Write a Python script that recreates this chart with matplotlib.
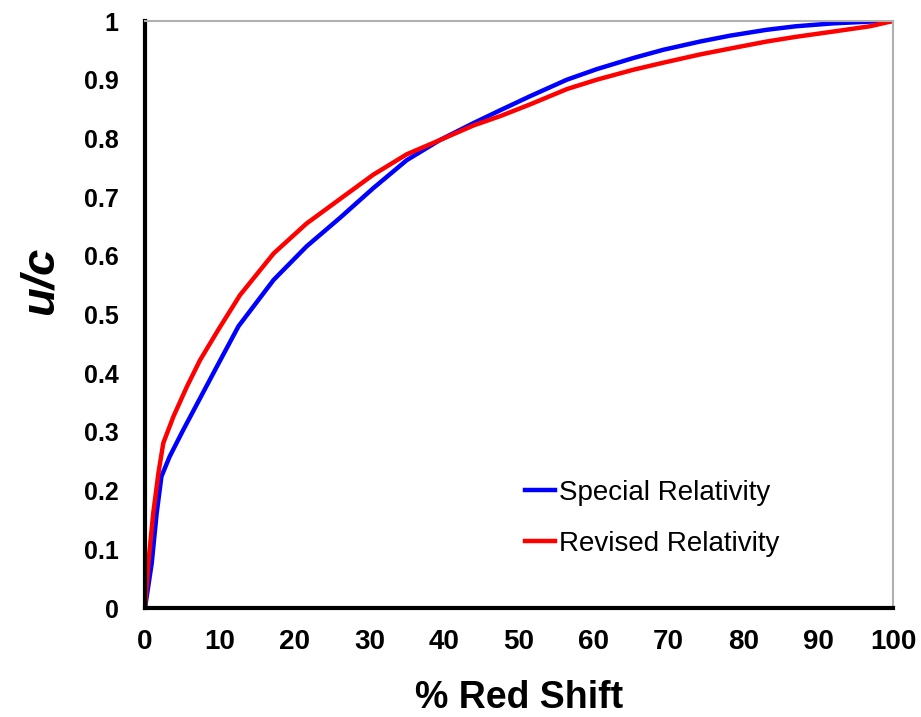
import matplotlib
matplotlib.use("Agg")
import matplotlib.pyplot as plt

# values
special_x = [0, 0.9, 1.56, 2.2, 3.3, 5.1, 7.35, 9.6, 12.5, 17.2, 21.6, 26.1, 30.5,
             35, 39.4, 43.9, 47.5, 51.5, 56.4, 60.4, 65.3, 69.3, 74.2, 78.2, 83.1,
             87, 92, 96.9, 100]
special_y = [0, 0.076, 0.161, 0.224, 0.258, 0.303, 0.357, 0.411, 0.48, 0.559, 0.616,
             0.665, 0.715, 0.763, 0.797, 0.826, 0.848, 0.872, 0.900, 0.918, 0.937,
             0.951, 0.965, 0.975, 0.985, 0.991, 0.996, 0.999, 1.0]

revised_x = [0, 0.45, 1.1, 1.8, 2.45, 3.8, 5.6, 7.35, 9.8, 12.7, 17.2, 21.6, 26.1,
             30.5, 35, 39.4, 43.9, 47.5, 51.5, 56.4, 60.4, 65.3, 69.3, 74.2, 78.2,
             83.1, 87, 92, 96.9, 100]
revised_y = [0, 0.076, 0.161, 0.23, 0.281, 0.326, 0.377, 0.422, 0.474, 0.533, 0.604,
             0.655, 0.697, 0.738, 0.773, 0.797, 0.822, 0.838, 0.858, 0.884, 0.900,
             0.917, 0.929, 0.943, 0.953, 0.965, 0.973, 0.982, 0.991, 1.0]

x_ticks = list(range(0, 101, 10))
y_ticks = [0, 0.1, 0.2, 0.3, 0.4, 0.5, 0.6, 0.7, 0.8, 0.9, 1]
y_tick_labels = ['0', '0.1', '0.2', '0.3', '0.4', '0.5', '0.6', '0.7', '0.8', '0.9', '1']

plt.rcParams['font.family'] = ['Liberation Sans', 'DejaVu Sans']

fig = plt.figure(figsize=(9.21, 7.17), dpi=100)
ax = fig.add_axes([0.1574, 0.152, 0.8122, 0.8187])

ax.plot(special_x, special_y, color='#0000ff', lw=3.2, label='Special Relativity',
        solid_joinstyle='round')
ax.plot(revised_x, revised_y, color='#ff0000', lw=3.2, label='Revised Relativity',
        solid_joinstyle='round')

ax.set_xlim(0, 100)
ax.set_ylim(0, 1)
ax.set_xticks(x_ticks)
ax.set_yticks(y_ticks)
ax.set_yticklabels(y_tick_labels)
ax.tick_params(length=0)
ax.tick_params(axis='x', pad=15, labelsize=20)
ax.tick_params(axis='y', pad=19, labelsize=18)
for t in ax.get_xticklabels() + ax.get_yticklabels():
    t.set_fontweight('bold')

for s in ['left', 'bottom']:
    ax.spines[s].set_linewidth(3)
    ax.spines[s].set_color('black')
for s in ['top', 'right']:
    ax.spines[s].set_linewidth(1.5)
    ax.spines[s].set_color('#b0b0b0')

ax.set_xlabel('% Red Shift', fontsize=27, fontweight='bold', labelpad=18)
ax.set_ylabel('u/c', fontsize=34, fontweight='bold', style='italic')
ax.yaxis.set_label_coords(-0.11, 0.557)

ax.legend(loc='lower left', bbox_to_anchor=(0.474, 0.044), frameon=False,
          fontsize=20, handlelength=1.1, handletextpad=0.15, labelspacing=0.9)

fig.savefig('out.png', dpi=100, facecolor='white')
